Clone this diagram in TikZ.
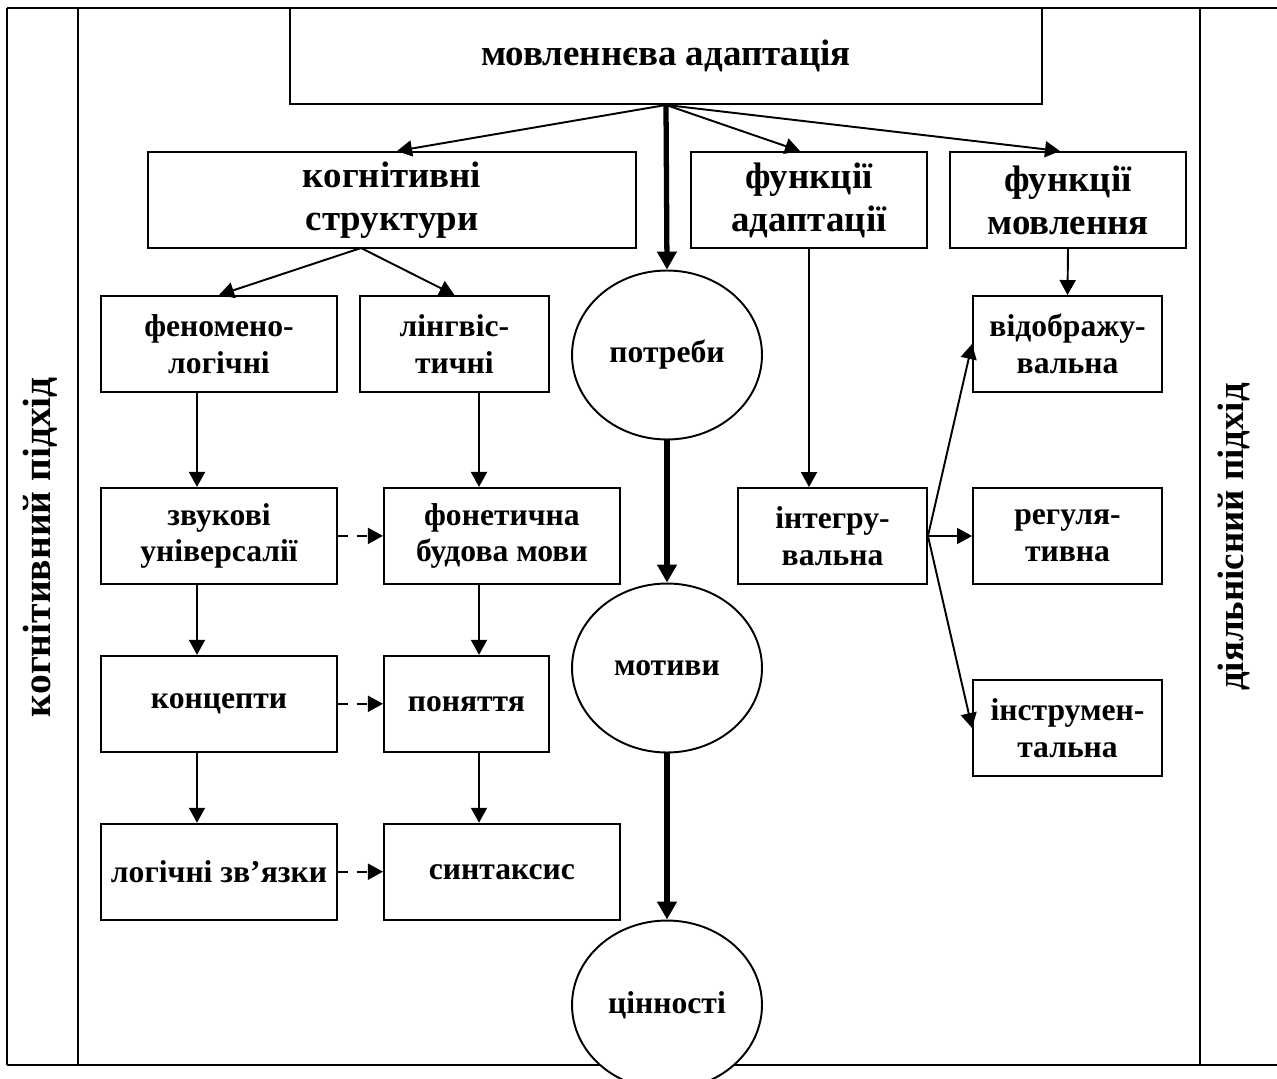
\documentclass[tikz,border=0pt]{standalone}
\usepackage{fontspec}
\setmainfont{Liberation Serif}
\usepackage{tikz}
\usetikzlibrary{shapes.geometric, arrows.meta, positioning, calc}

\begin{document}
\begin{tikzpicture}[
    x=0.02cm, y=-0.02cm,
    % Styles
    block/.style={rectangle, draw=black, line width=1.1pt, fill=white, minimum width=4.72cm, minimum height=1.92cm, inner sep=1pt, align=center, font=\fontsize{18}{21}\selectfont\bfseries},
    headblock/.style={block, font=\fontsize{21}{24.5}\selectfont\bfseries},
    goal/.style={ellipse, draw=black, line width=1.1pt, fill=white, minimum width=3.8cm, minimum height=3.38cm, inner sep=0pt, align=center, font=\fontsize{18}{21}\selectfont\bfseries},
    side/.style={rotate=90, inner sep=0pt, font=\fontsize{21}{24}\selectfont\bfseries},
    frame/.style={line width=1.1pt},
    arrow/.style={-{Triangle[length=0.3cm, width=0.32cm]}, line width=1.1pt},
    mainarrow/.style={-{Triangle[length=0.36cm, width=0.38cm]}, line width=3pt},
    linkarrow/.style={arrow, dash pattern=on 0.2cm off 0.18cm}
]
    \useasboundingbox (0,0) rectangle (1277,1078);

    % Frame with the two side columns
    \draw[frame] (7,8) -- (1290,8);
    \draw[frame] (7,1065) -- (1290,1065);
    \draw[frame] (7,8) -- (7,1065);
    \draw[frame] (78,8) -- (78,1065);
    \draw[frame] (1200,8) -- (1200,1065);

    \node[side, font=\fontsize{22.5}{24}\selectfont\bfseries] (cogapp) at (40,547) {когнітивний підхід};
    \node[side] (actapp) at (1234,537) {діяльнісний підхід};

    % Top
    \node[headblock, minimum width=15.04cm] (speech) at (666,56) {мовленнєва адаптація};

    \node[headblock, minimum width=9.76cm] (cogstruct) at (392,200) {когнітивні\\структури};
    \node[headblock] (adfunc) at (809,200) {функції\\адаптації};
    \node[headblock] (spfunc) at (1068,200) {функції\\мовлення};

    % Cognitive branch
    \node[block] (fenom) at (219,344) {феномено-\\логічні};
    \node[block, minimum width=3.78cm, right=0.42cm of fenom] (ling) {лінгвіс-\\тичні};

    \node[block, below=1.88cm of fenom] (sound) {звукові\\універсалії};
    \node[block, right=0.9cm of sound] (phon) {фонетична\\будова мови};

    \node[block, below=1.4cm of sound] (concept) {концепти};
    \node[block, minimum width=3.3cm, right=0.9cm of concept] (notion) {поняття};

    \node[block, below=1.4cm of concept] (logic) {логічні зв’язки};
    \node[block, right=0.9cm of logic] (syntax) {синтаксис};

    % Middle column
    \node[goal] (needs) at (667,355) {потреби};
    \node[goal] (motives) at (667,668) {мотиви};
    \node[goal] (values) at (667,1005) {цінності};

    % Functions branch
    \node[block, minimum width=3.78cm] (integr) at (832.5,536) {інтегру-\\вальна};
    \node[block, minimum width=3.78cm] (reflect) at (1067.5,344) {відображу-\\вальна};
    \node[block, minimum width=3.78cm] (regul) at (1067.5,536) {регуля-\\тивна};
    \node[block, minimum width=3.78cm] (instr) at (1067.5,728) {інструмен-\\тальна};

    \coordinate (split) at (361,248);
    \coordinate (lcol) at (197,0);
    \coordinate (rcol) at (479,0);

    % Arrows
    \draw[arrow] (speech.south) -- ([xshift=0.1cm]cogstruct.north);
    \draw[arrow] (speech.south) -- ([xshift=-0.18cm]adfunc.north);
    \draw[arrow] (speech.south) -- ([xshift=-0.16cm]spfunc.north);
    \draw[mainarrow] (speech.south) -- (needs.north);
    \draw[mainarrow] (needs.south) -- (motives.north);
    \draw[mainarrow] (motives.south) -- (values.north);

    \draw[arrow] (split) -- (fenom.north);
    \draw[arrow] (split) -- (ling.north);
    \draw[arrow] (fenom.south -| lcol) -- (sound.north -| lcol);
    \draw[arrow] (sound.south -| lcol) -- (concept.north -| lcol);
    \draw[arrow] (concept.south -| lcol) -- (logic.north -| lcol);
    \draw[arrow] (ling.south -| rcol) -- (phon.north -| rcol);
    \draw[arrow] (phon.south -| rcol) -- (notion.north -| rcol);
    \draw[arrow] (notion.south -| rcol) -- (syntax.north -| rcol);

    \draw[linkarrow] (sound.east) -- (phon.west);
    \draw[linkarrow] (concept.east) -- (notion.west);
    \draw[linkarrow] (logic.east) -- (syntax.west);

    \draw[arrow] (adfunc.south) -- (integr.north -| adfunc.south);
    \draw[arrow] (spfunc.south) -- (reflect.north);
    \draw[arrow] (integr.east) -- (reflect.west);
    \draw[arrow] (integr.east) -- (regul.west);
    \draw[arrow] (integr.east) -- (instr.west);
\end{tikzpicture}
\end{document}
